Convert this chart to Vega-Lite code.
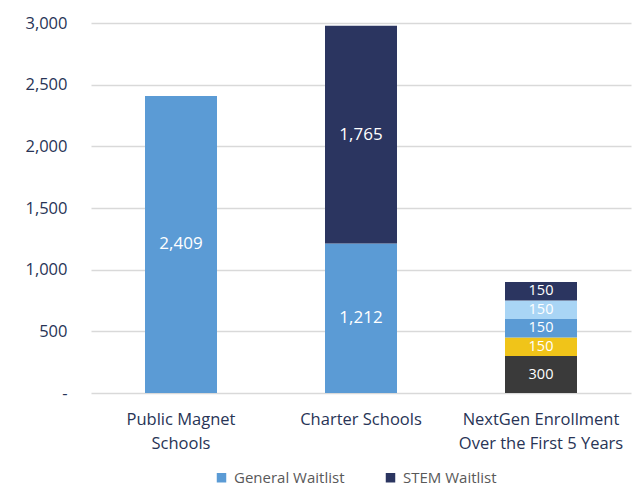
{
  "$schema": "https://vega.github.io/schema/vega-lite/v6.json",
  "width": 540,
  "height": 370,
  "autosize": {"type": "none"},
  "padding": {"left": 91, "top": 23, "right": 9, "bottom": 96},
  "background": "white",
  "config": {"view": {"stroke": null}, "font": "Open Sans"},
  "data": {
    "values": [
      {"category": "Public Magnet|Schools", "segment": "General Waitlist", "value": 2409, "ord": 1},
      {"category": "Charter Schools", "segment": "General Waitlist", "value": 1212, "ord": 1},
      {"category": "Charter Schools", "segment": "STEM Waitlist", "value": 1765, "ord": 2},
      {"category": "NextGen Enrollment|Over the First 5 Years", "segment": "Year 1", "value": 300, "ord": 1},
      {"category": "NextGen Enrollment|Over the First 5 Years", "segment": "Year 2", "value": 150, "ord": 2},
      {"category": "NextGen Enrollment|Over the First 5 Years", "segment": "Year 3", "value": 150, "ord": 3},
      {"category": "NextGen Enrollment|Over the First 5 Years", "segment": "Year 4", "value": 150, "ord": 4},
      {"category": "NextGen Enrollment|Over the First 5 Years", "segment": "Year 5", "value": 150, "ord": 5}
    ]
  },
  "encoding": {
    "x": {
      "field": "category",
      "type": "nominal",
      "sort": null,
      "scale": {"paddingInner": 0.6, "paddingOuter": 0.3},
      "axis": {
        "title": null,
        "labelAngle": 0,
        "labelExpr": "split(datum.label, '|')",
        "labelFont": "Open Sans",
        "labelFontSize": 16.5,
        "labelFontWeight": 500,
        "labelColor": "#283456",
        "labelLineHeight": 24,
        "labelPadding": 18,
        "ticks": false,
        "domain": false
      }
    },
    "y": {
      "field": "value",
      "type": "quantitative",
      "stack": "zero",
      "scale": {"domain": [0, 3000]},
      "axis": {
        "title": null,
        "values": [0, 500, 1000, 1500, 2000, 2500, 3000],
        "labelExpr": "datum.value == 0 ? '-' : format(datum.value, ',')",
        "labelFont": "Open Sans",
        "labelFontSize": 16.5,
        "labelFontWeight": 500,
        "labelColor": "#283456",
        "labelPadding": 24,
        "ticks": false,
        "domain": false,
        "gridColor": "#d9d9d9",
        "gridWidth": 1.3
      }
    },
    "order": {"field": "ord", "type": "quantitative"}
  },
  "layer": [
    {
      "mark": {"type": "bar"},
      "encoding": {
        "color": {
          "field": "segment",
          "type": "nominal",
          "scale": {
            "domain": ["General Waitlist", "STEM Waitlist", "Year 1", "Year 2", "Year 3", "Year 4", "Year 5"],
            "range": ["#5B9BD5", "#2B3560", "#3A3A3A", "#F0C419", "#5B9BD5", "#A9D5F5", "#2B3560"]
          },
          "legend": {
            "title": null,
            "values": ["General Waitlist", "STEM Waitlist"],
            "orient": "none",
            "direction": "horizontal",
            "legendX": 123,
            "legendY": 447,
            "symbolType": "square",
            "symbolSize": 90,
            "symbolStrokeWidth": 0,
            "labelFont": "Open Sans",
            "labelFontSize": 15,
            "labelColor": "#595959",
            "columnPadding": 38,
            "labelOffset": 5
          }
        }
      }
    },
    {
      "mark": {"type": "text", "color": "white", "font": "Open Sans", "baseline": "middle"},
      "encoding": {
        "y": {"field": "value", "type": "quantitative", "stack": "zero", "bandPosition": 0.5},
        "text": {"field": "value", "type": "quantitative", "format": ","},
        "size": {
          "condition": {"test": "datum.value < 1000", "value": 14.5},
          "value": 17
        }
      }
    }
  ]
}
